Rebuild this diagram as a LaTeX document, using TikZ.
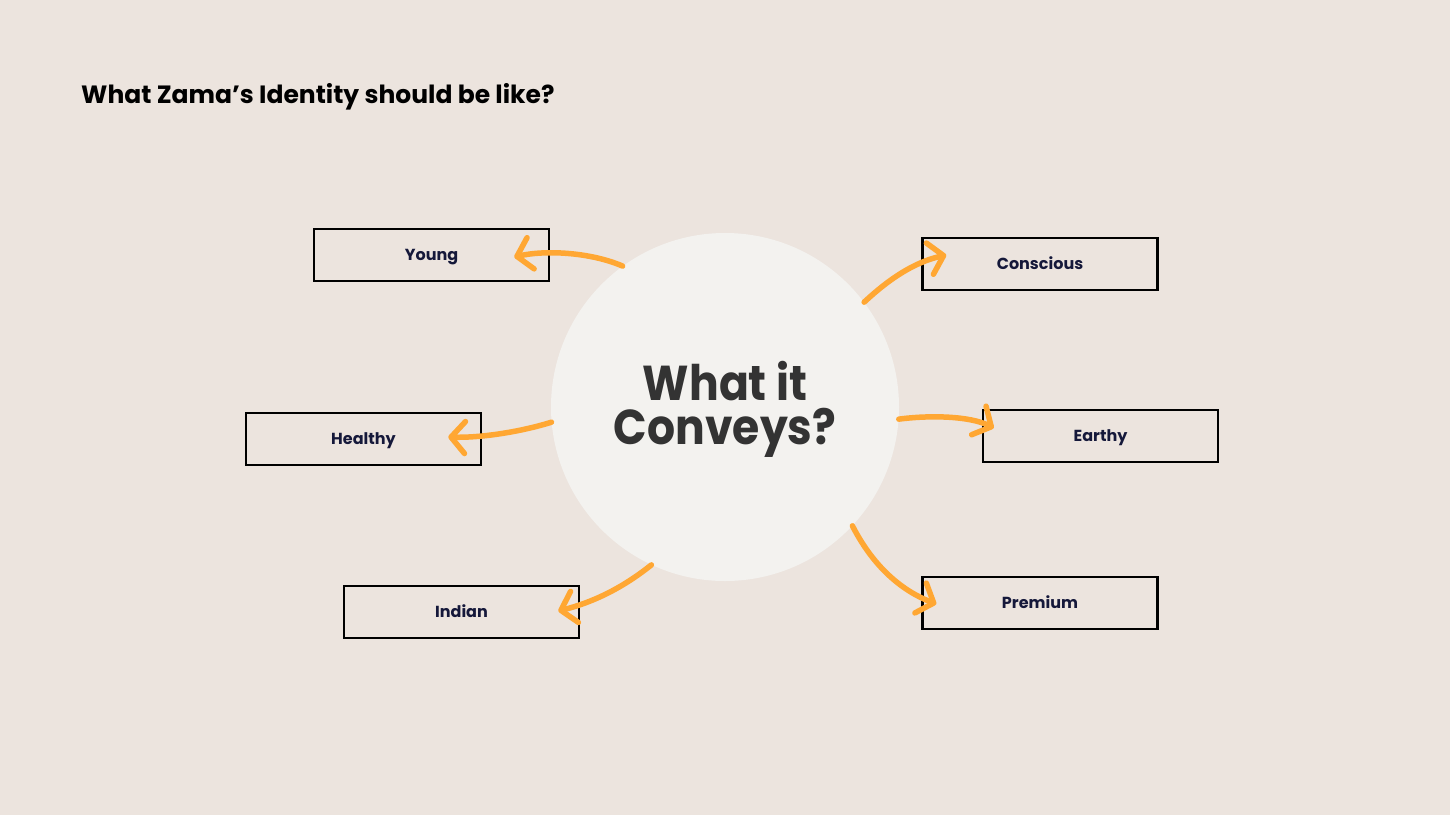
\documentclass[tikz,border=0pt]{standalone}
\usepackage{fontspec}
\setmainfont{Poppins}
\newfontfamily\bigfont{Poppins}[FakeStretch=0.9]
\usetikzlibrary{arrows.meta}
\definecolor{bg}{HTML}{ECE4DE}
\definecolor{circ}{HTML}{F3F2EF}
\definecolor{orng}{HTML}{FFA733}
\definecolor{navy}{HTML}{15183A}
\definecolor{dark}{HTML}{333333}
\tikzset{
  box/.style={draw=black, line width=2.5pt, minimum width=235pt, minimum height=52pt, inner sep=0pt,
    text height=11pt, text depth=0pt,
    font=\fontsize{16}{18}\selectfont\bfseries, text=navy},
  conn/.style={draw=orng, line width=5.5pt, line cap=round,
    -{Straight Barb[length=14pt,width=32pt,line cap=round,line join=round]}},
}
\begin{document}
\begin{tikzpicture}[x=1pt,y=-1pt]
\fill[bg] (0,0) rectangle (1450,815);
\useasboundingbox (0,0) rectangle (1450,815);

\node[anchor=base west, inner sep=0pt, font=\fontsize{25}{28}\selectfont\bfseries, text=black] (title) at (81,103) {What Zama’s Identity should be like?};

\node[box] (young) at (431.5,255) {Young};
\node[box] (healthy) at (363.5,439) {Healthy};
\node[box] (indian) at (461.5,612) {Indian};
\node[box] (conscious) at (1040,264) {Conscious};
\node[box] (earthy) at (1100.5,436) {Earthy};
\node[box] (premium) at (1040,603) {Premium};

\node[circle, fill=circ, minimum size=348pt, inner sep=0pt] (c) at (725,407) {};
\node[align=center, text=dark, inner sep=0pt, font=\bigfont\fontsize{49}{44}\selectfont\bfseries] (ctext) at (725,409) {What it\\Conveys?};

\draw[conn] (c.126) .. controls (590,252) and (545,250) .. ([xshift=-36pt,yshift=-2pt]young.east);
\draw[conn] (c.185) .. controls (520,432) and (480,438) .. ([xshift=-34pt,yshift=2pt]healthy.east);
\draw[conn] (c.245) .. controls (620,590) and (590,603) .. ([xshift=-22pt,yshift=1pt]indian.east);
\draw[conn] (c.37) .. controls (890,278) and (915,262) .. ([xshift=25pt,yshift=9pt]conscious.west);
\draw[conn] (c.-4) .. controls (930,415) and (970,416) .. ([xshift=12pt,yshift=8pt]earthy.west);
\draw[conn] (c.-43) .. controls (875,570) and (905,592) .. ([xshift=15pt,yshift=-1pt]premium.west);
\end{tikzpicture}
\end{document}
